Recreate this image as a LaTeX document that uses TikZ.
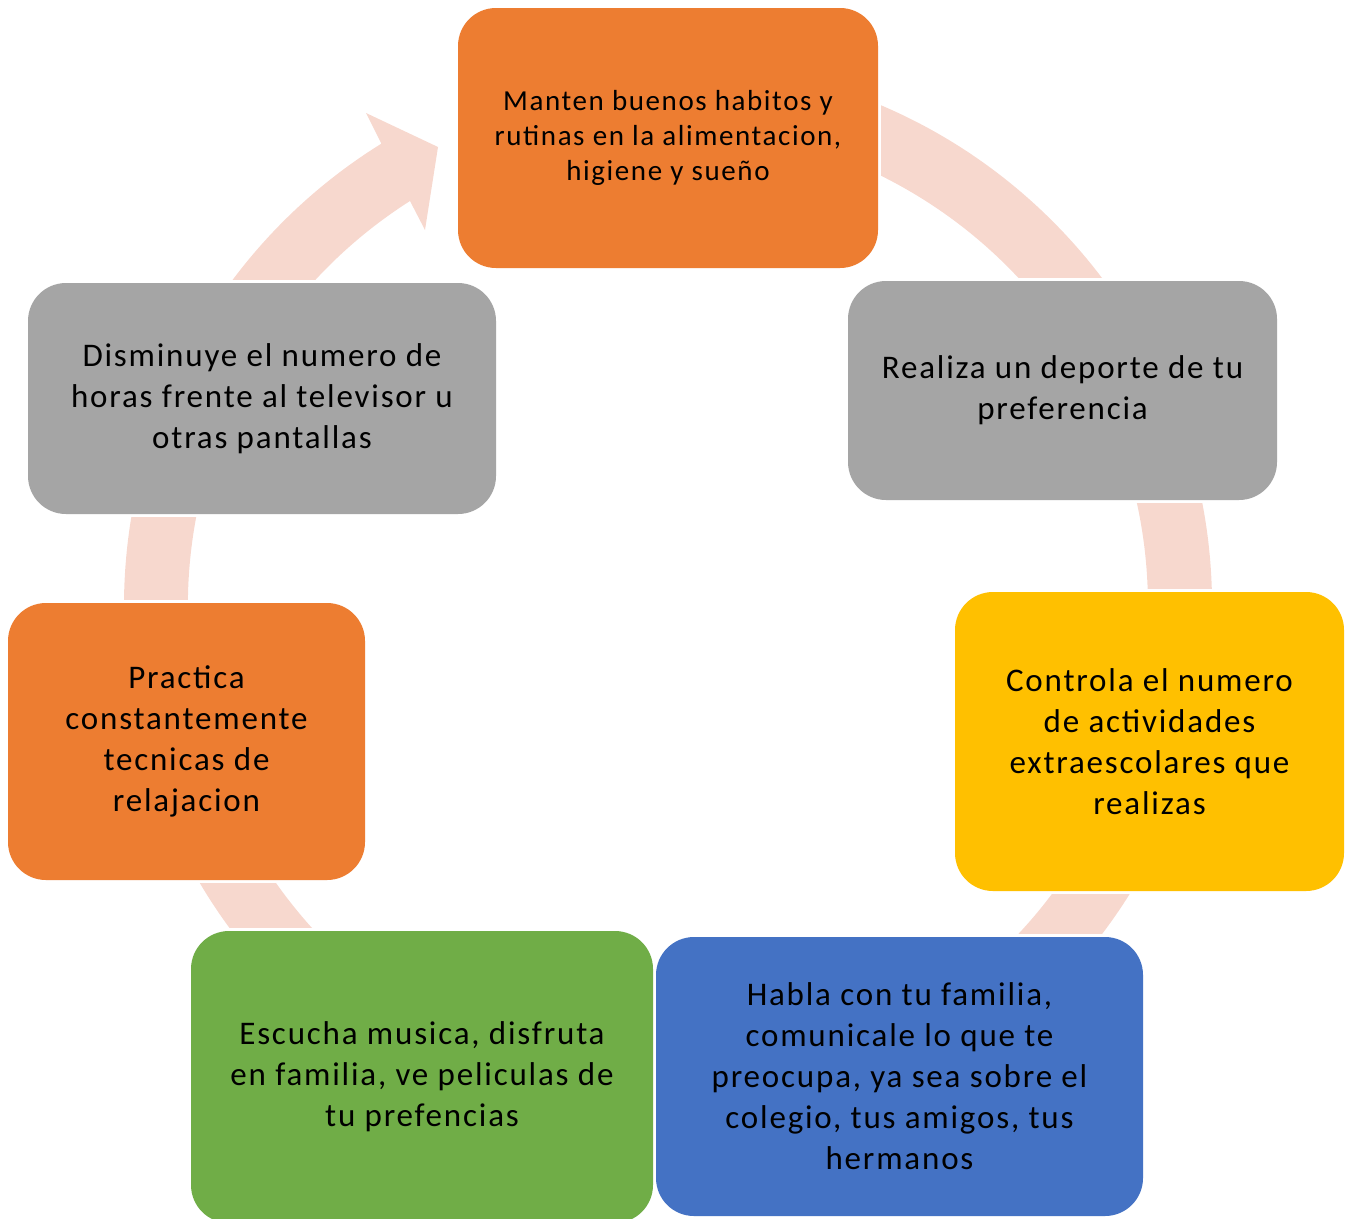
\documentclass[tikz,border=0pt]{standalone}
\usepackage{fontspec}
\setmainfont{Carlito}[LetterSpace=5.5]
\usetikzlibrary{backgrounds,calc}
\definecolor{cOrange}{HTML}{ED7D31}
\definecolor{cGray}{HTML}{A5A5A5}
\definecolor{cYellow}{HTML}{FFC000}
\definecolor{cBlue}{HTML}{4472C4}
\definecolor{cGreen}{HTML}{70AD47}
\definecolor{cRing}{RGB}{247,216,206}
\begin{document}
\begin{tikzpicture}[x=1pt,y=-1pt,
  box/.style={rounded corners=38pt, align=center, inner sep=0pt, text=black,
    font=\fontsize{33}{41}\selectfont},
  gap/.style={fill=white}]
\useasboundingbox (0,0) rectangle (1348,1218);
\clip (0,0) rectangle (1348,1218);
\coordinate (c) at (668,606);
\node[box, fill=cOrange, minimum width=420pt, minimum height=260pt,
  font=\fontsize{29}{35}\selectfont] (b1) at (668,138)
  {Manten buenos habitos y\\rutinas en la alimentacion,\\higiene y sueño};
\node[box, fill=cGray, minimum width=429pt, minimum height=219pt] (b2) at (1062.5,390.5)
  {Realiza un deporte de tu\\preferencia};
\node[box, fill=cYellow, minimum width=389pt, minimum height=299pt] (b3) at (1149.5,741.5)
  {Controla el numero\\de actividades\\extraescolares que\\realizas};
\node[box, fill=cBlue, minimum width=487pt, minimum height=279pt] (b4) at (899.5,1076.5)
  {Habla con tu familia,\\comunicale lo que te\\preocupa, ya sea sobre el\\colegio, tus amigos, tus\\hermanos};
\node[box, fill=cGreen, minimum width=462pt, minimum height=292pt] (b5) at (422,1077)
  {Escucha musica, disfruta\\en familia, ve peliculas de\\tu prefencias};
\node[box, fill=cOrange, minimum width=357pt, minimum height=277pt] (b6) at (186.5,741.5)
  {Practica\\constantemente\\tecnicas de\\relajacion};
\node[box, fill=cGray, minimum width=468pt, minimum height=231pt] (b7) at (262,398.5)
  {Disminuye el numero de\\horas frente al televisor u\\otras pantallas};
\begin{pgfonlayer}{background}
\fill[cRing] ($(c)+(-85:544)$) arc[start angle=-85, end angle=238.2, radius=544]
  -- (366,113) -- (438,147) -- (425,230) -- (410,201)
  arc[start angle=237.5, end angle=-85, radius=480] -- cycle;
\foreach \b in {b1,b2,b3,b4,b5,b6,b7}{
  \fill[gap] ([shift={(-3,-3)}]\b.north west) rectangle ([shift={(3,3)}]\b.south east);
}
\end{pgfonlayer}
\end{tikzpicture}
\end{document}
